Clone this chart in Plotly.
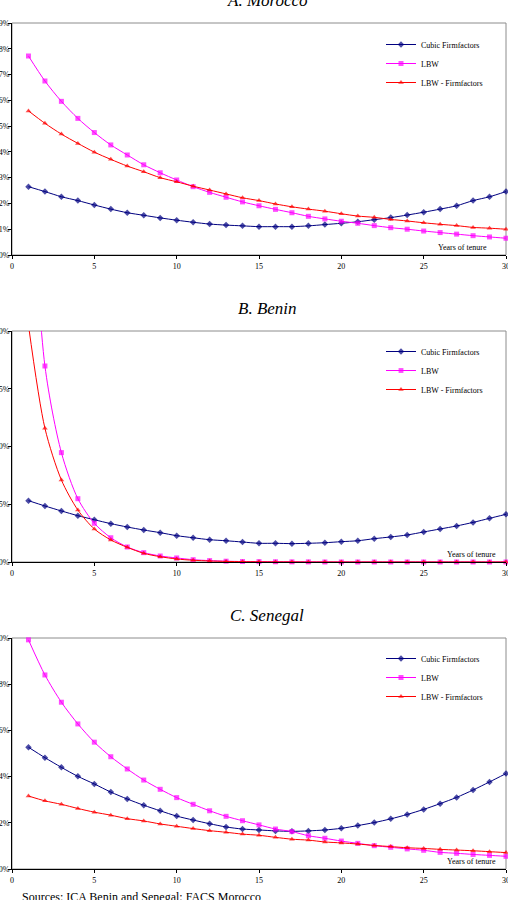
import plotly.graph_objects as go

# ---------------- data (percent) ----------------
years = list(range(1, 31))
x_ticks = [0, 5, 10, 15, 20, 25, 30]
series_names = ["Cubic Firmfactors", "LBW", "LBW - Firmfactors"]

morocco_cubic = [2.65, 2.46, 2.26, 2.11, 1.94, 1.78, 1.64, 1.54, 1.44, 1.35,
                 1.27, 1.20, 1.16, 1.13, 1.10, 1.10, 1.10, 1.13, 1.18, 1.23,
                 1.29, 1.37, 1.45, 1.55, 1.66, 1.78, 1.91, 2.11, 2.26, 2.46]
morocco_lbw = [7.72, 6.75, 5.96, 5.30, 4.75, 4.27, 3.88, 3.50, 3.19, 2.91,
               2.65, 2.43, 2.24, 2.06, 1.91, 1.77, 1.64, 1.50, 1.40, 1.31,
               1.23, 1.14, 1.06, 1.00, 0.93, 0.87, 0.81, 0.75, 0.70, 0.65]
morocco_lbw_ff = [5.59, 5.11, 4.69, 4.33, 3.99, 3.71, 3.45, 3.23, 3.00, 2.84,
                  2.67, 2.52, 2.37, 2.22, 2.11, 1.98, 1.87, 1.78, 1.70, 1.60,
                  1.51, 1.46, 1.38, 1.32, 1.25, 1.19, 1.14, 1.07, 1.04, 1.00]

benin_cubic = [5.31, 4.85, 4.42, 4.01, 3.66, 3.32, 3.03, 2.77, 2.54, 2.28,
               2.10, 1.93, 1.84, 1.73, 1.62, 1.62, 1.59, 1.62, 1.67, 1.76,
               1.84, 2.02, 2.17, 2.34, 2.60, 2.86, 3.12, 3.43, 3.78, 4.13]
benin_lbw = [38.0, 16.97, 9.47, 5.48, 3.35, 2.10, 1.30, 0.81, 0.52, 0.35,
             0.20, 0.12, 0.07, 0.04, 0.03, 0.02, 0.01, 0.01, 0.0, 0.0,
             0.0, 0.0, 0.0, 0.0, 0.0, 0.0, 0.0, 0.0, 0.0, 0.0]
benin_lbw_ff = [20.5, 11.58, 7.10, 4.50, 2.86, 1.91, 1.27, 0.75, 0.46, 0.26,
                0.15, 0.09, 0.05, 0.03, 0.02, 0.01, 0.01, 0.0, 0.0, 0.0,
                0.0, 0.0, 0.0, 0.0, 0.0, 0.0, 0.0, 0.0, 0.0, 0.0]

senegal_cubic = [5.27, 4.82, 4.40, 4.01, 3.68, 3.33, 3.03, 2.76, 2.52, 2.29,
                 2.12, 1.96, 1.82, 1.73, 1.69, 1.65, 1.63, 1.65, 1.69, 1.76,
                 1.88, 2.01, 2.17, 2.36, 2.58, 2.83, 3.10, 3.42, 3.77, 4.13]
senegal_lbw = [9.92, 8.40, 7.22, 6.28, 5.49, 4.86, 4.33, 3.85, 3.45, 3.09,
               2.80, 2.52, 2.28, 2.09, 1.91, 1.73, 1.62, 1.44, 1.33, 1.21,
               1.11, 1.01, 0.94, 0.87, 0.81, 0.72, 0.68, 0.63, 0.59, 0.55]
senegal_lbw_ff = [3.16, 2.95, 2.80, 2.62, 2.46, 2.33, 2.18, 2.08, 1.95, 1.85,
                  1.75, 1.66, 1.59, 1.51, 1.46, 1.37, 1.29, 1.25, 1.17, 1.13,
                  1.08, 1.02, 0.97, 0.92, 0.89, 0.85, 0.82, 0.79, 0.75, 0.71]

panel_titles = ["A. Morocco", "B. Benin", "C. Senegal"]
y_max = [9, 20, 10]
y_dtick = [1, 5, 2]
panel_data = [
    (morocco_cubic, morocco_lbw, morocco_lbw_ff),
    (benin_cubic, benin_lbw, benin_lbw_ff),
    (senegal_cubic, senegal_lbw, senegal_lbw_ff),
]
axis_label = "Years of tenure"
source_note = "Sources: ICA Benin and Senegal; FACS Morocco"

# ---------------- styling / layout ----------------
W, H = 508, 900
FONT = "Liberation Serif"
colors = ["#000080", "#FF00FF", "#FF0000"]
symbols = ["diamond", "square", "triangle-up"]

# plot-area pixel boxes (top, bottom), x from 12 to 506
plot_tb = [(23, 255), (331, 562), (638, 869)]
x_left, x_right = 12, 506
legend_top = [30, 337, 644]
tenure_pos = [(462, 247), (471, 554), (471, 861)]


def fx(p):
    return p / W


def fy(p):
    return 1 - p / H


fig = go.Figure()
layout = dict(
    width=W, height=H,
    margin=dict(l=0, r=0, t=0, b=0),
    paper_bgcolor="white", plot_bgcolor="white",
    font=dict(family=FONT, size=8, color="black"),
    showlegend=True,
    annotations=[], shapes=[],
)

for i in range(3):
    n = "" if i == 0 else str(i + 1)
    top, bot = plot_tb[i]
    xa = "x" + n
    ya = "y" + n
    lg = "legend" + n
    for k in range(3):
        vals = panel_data[i][k]
        sizes = [0 if v > y_max[i] else 5 for v in vals]
        fig.add_trace(go.Scatter(
            x=years, y=vals, name=series_names[k],
            xaxis=xa, yaxis=ya, legend=lg,
            mode="lines+markers",
            line=dict(color=colors[k], width=1, shape="spline", smoothing=0.8),
            marker=dict(symbol=symbols[k], size=sizes, color=colors[k],
                        line=dict(width=0)),
            cliponaxis=False,
        ))
    layout["xaxis" + n] = dict(
        domain=[fx(x_left), fx(x_right)], anchor=ya, range=[0, 30],
        tickvals=x_ticks, ticks="outside", ticklen=3, tickcolor="black",
        showline=True, linecolor="black", linewidth=1, showgrid=False,
        zeroline=False, tickfont=dict(family=FONT, size=8), automargin=False,
        ticklabeloverflow="allow",
    )
    layout["yaxis" + n] = dict(
        domain=[fy(bot), fy(top)], anchor=xa, range=[0, y_max[i]],
        dtick=y_dtick[i], tick0=0, ticksuffix="%", ticks="outside", ticklen=3,
        tickcolor="black", showline=True, linecolor="black", linewidth=1,
        showgrid=False, zeroline=False, tickfont=dict(family=FONT, size=8),
        automargin=False, ticklabeloverflow="allow", ticklabelstandoff=-3,
    )
    layout[lg] = dict(
        x=fx(381), y=fy(legend_top[i]), xanchor="left", yanchor="top",
        font=dict(family=FONT, size=8), bgcolor="rgba(0,0,0,0)",
        itemwidth=30, tracegroupgap=0,
    )
    # grey plot border (top and right)
    layout["shapes"].append(dict(
        type="rect", xref="paper", yref="paper",
        x0=fx(x_left), x1=fx(x_right), y0=fy(bot), y1=fy(top),
        line=dict(color="#8c8c8c", width=1), layer="below",
    ))
    layout["annotations"].append(dict(
        text="<i>" + panel_titles[i] + "</i>", xref="paper", yref="paper",
        x=fx(267), y=fy(top - 23), xanchor="center", yanchor="middle",
        showarrow=False, font=dict(family=FONT, size=17, color="black"),
    ))
    tx, ty = tenure_pos[i]
    layout["annotations"].append(dict(
        text=axis_label, xref="paper", yref="paper",
        x=fx(tx), y=fy(ty), xanchor="center", yanchor="middle",
        showarrow=False, font=dict(family=FONT, size=8, color="black"),
    ))

layout["annotations"].append(dict(
    text=source_note, xref="paper", yref="paper",
    x=fx(20), y=fy(897), xanchor="left", yanchor="middle",
    showarrow=False, font=dict(family=FONT, size=12, color="black"),
))

fig.update_layout(**layout)
fig.write_html("out.html")
